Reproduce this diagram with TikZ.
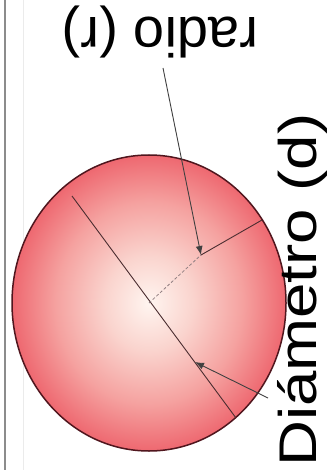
\documentclass[tikz,border=0pt]{standalone}
\usepackage{fontspec}
\setmainfont{Liberation Sans}
\usetikzlibrary{arrows.meta,calc}
\definecolor{ballc}{RGB}{255,245,240}
\definecolor{balla}{RGB}{250,212,206}
\definecolor{ballb}{RGB}{245,162,160}
\definecolor{balle}{RGB}{238,104,112}
\definecolor{rimcol}{RGB}{80,22,30}
\definecolor{linecol}{RGB}{75,45,48}
\pgfdeclareradialshading{ball}{\pgfpoint{0bp}{0bp}}{color(0bp)=(ballc); color(8bp)=(balla); color(17bp)=(ballb); color(25bp)=(balle); color(50bp)=(balle)}
\tikzset{
  rim/.style={draw=rimcol, line width=1.5pt},
  thinline/.style={draw=linecol, line width=0.9pt},
  faintline/.style={draw=linecol!60, line width=0.8pt, densely dashed},
  pointer/.style={draw=black!75, line width=0.9pt, -{Latex[length=9pt,width=7pt]}},
  lbl/.style={inner sep=0pt, font=\fontsize{56}{60}\selectfont},
}
\begin{document}
\begin{tikzpicture}[x=1pt,y=-1pt]
\useasboundingbox (0,0) rectangle (327,470);
\fill[white] (0,0) rectangle (327,470);
% frame lines on the left
\coordinate (f1) at (5,0); \coordinate (f2) at (5,470);
\draw[line width=2.4pt, black!45] (f1) -- (f2);
\coordinate (g1) at (23,0); \coordinate (g2) at (23,470);
\draw[line width=1pt, black!8] (g1) -- (g2);
% sphere
\coordinate (C) at (149,303);
\shade[shading=ball] (C) ellipse [x radius=137pt, y radius=148pt];
\draw[rim] (C) ellipse [x radius=137pt, y radius=148pt];
% diameter
\coordinate (D1) at (72,196);
\coordinate (D2) at (236,418);
\draw[thinline] (D1) -- (D2);
% radius
\coordinate (Rtip) at (201,255);
\coordinate (R) at (262,220);
\draw[faintline] (C) -- (Rtip);
\draw[thinline] (Rtip) -- (R);
% labels
\node[lbl, rotate=180, anchor=base] (rlab) at (160,18) {radio (r)};
\node[lbl, font=\fontsize{53}{58}\selectfont, rotate=90, anchor=base west] (dlab) at (316,467) {\scalebox{1.2}[1]{Diámetro (d)}};
% pointers
\coordinate (rp) at (163,68);
\draw[pointer] (rp) -- (Rtip);
\coordinate (Dtip) at (195,362);
\coordinate (dp) at (268,398);
\draw[pointer] (dp) -- (Dtip);
\end{tikzpicture}
\end{document}
